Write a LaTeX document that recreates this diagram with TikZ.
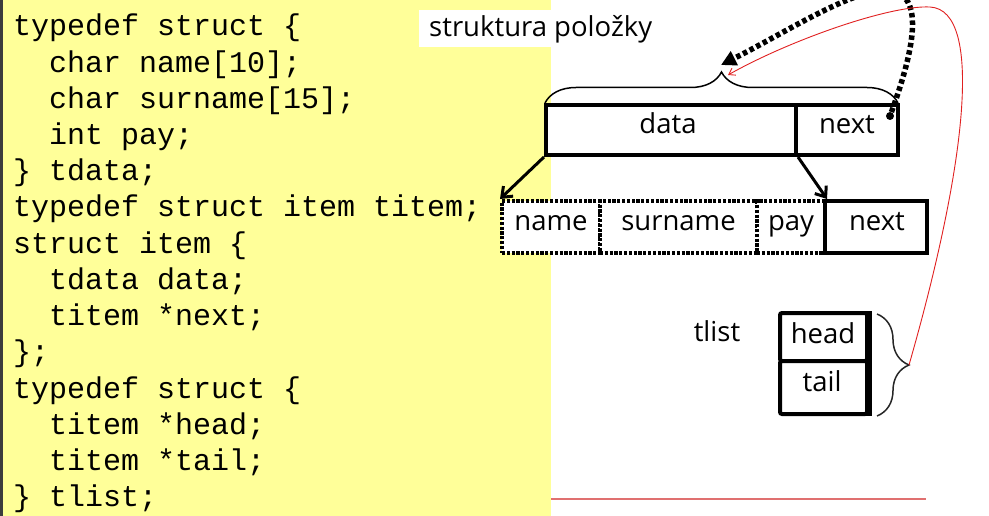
\documentclass[tikz,border=0pt]{standalone}
\usepackage{fontspec}
\setmainfont{Open Sans}
\newfontfamily\codefont{Liberation Mono}
\usetikzlibrary{decorations.pathreplacing,arrows.meta}
\definecolor{codebg}{HTML}{FFFF99}
\definecolor{edgegray}{HTML}{3C3C3C}
\definecolor{redline}{HTML}{E02020}
\definecolor{pinkline}{HTML}{E07070}
\begin{document}
\begin{tikzpicture}[x=1pt,y=-1pt,
  code/.style={anchor=base west,inner sep=0pt,font=\codefont\fontsize{30}{36}\selectfont},
  lbl/.style={anchor=base,inner sep=0pt,font=\fontsize{27.5}{32}\selectfont},
  solidbox/.style={draw,fill=white,line width=4pt,inner sep=0pt},
  dotbox/.style={draw,fill=white,line width=4pt,dash pattern=on 3.2pt off 1.6pt,inner sep=0pt},
  ptrarrow/.style={line width=3pt,-{Straight Barb[length=9pt,width=14pt]}},
  bigbrace/.style={decorate,decoration={brace,amplitude=31pt},line width=1.5pt}
]
\useasboundingbox (0,0) rectangle (989,516);
\clip (0,0) rectangle (989,516);
% code panel
\fill[codebg] (0,0) rectangle (551,516);
\fill[edgegray] (0,0) rectangle (3,516);
\draw[pinkline,line width=1.5pt] (551,499) -- (926,499);
\fill[white] (419,10) rectangle (655,47);
\node[lbl,anchor=base west] (title) at (429,37) {struktura položky};
% code lines
\node[code] (l1)  at (13,36.0)  {typedef struct \{};
\node[code] (l2)  at (13,72.2)  {\hspace*{36pt}char name[10];};
\node[code] (l3)  at (13,108.4) {\hspace*{36pt}char surname[15];};
\node[code] (l4)  at (13,144.6) {\hspace*{36pt}int pay;};
\node[code] (l5)  at (13,180.8) {\} tdata;};
\node[code] (l6)  at (13,217.0) {typedef struct item titem;};
\node[code] (l7)  at (13,253.2) {struct item \{};
\node[code] (l8)  at (13,289.4) {\hspace*{36pt}tdata data;};
\node[code] (l9)  at (13,325.6) {\hspace*{36pt}titem *next;};
\node[code] (l10) at (13,361.8) {\};};
\node[code] (l11) at (13,398.0) {typedef struct \{};
\node[code] (l12) at (13,434.2) {\hspace*{36pt}titem *head;};
\node[code] (l13) at (13,470.4) {\hspace*{36pt}titem *tail;};
\node[code] (l14) at (13,506.6) {\} tlist;};
% item structure
\node[solidbox,minimum width=250pt,minimum height=50pt] (data) at (671,130) {};
\node[solidbox,minimum width=102pt,minimum height=50pt] (next) at (847,130) {};
\node[lbl] (tdata) at (668,134) {data};
\node[lbl] (tnext) at (847,134) {next};
\draw[bigbrace] (545,103) -- (898,103);
\coordinate (ptr) at (721,65);
\coordinate (rtip) at (728,75);
% row 2
\node[dotbox,minimum width=98pt,minimum height=52pt] (name) at (551,227) {};
\node[dotbox,minimum width=157pt,minimum height=52pt] (surname) at (678.5,227) {};
\node[dotbox,minimum width=68pt,minimum height=52pt] (pay) at (791,227) {};
\node[solidbox,minimum width=102pt,minimum height=52pt] (next2) at (876,227) {};
\node[lbl] (tname) at (551,230) {name};
\node[lbl] (tsurname) at (678.5,230) {surname};
\node[lbl] (tpay) at (791,230) {pay};
\node[lbl] (tnext2) at (877,230) {next};
\draw[ptrarrow] (data.south west) -- (name.north west);
\draw[ptrarrow] (data.south east) -- (pay.north east);
% tlist
\node[lbl] (tlist) at (717,341) {tlist};
\node[solidbox,rounded corners=2pt,minimum width=87pt,minimum height=48pt] (head) at (823.5,337) {};
\node[solidbox,rounded corners=2pt,minimum width=87pt,minimum height=53pt] (tail) at (823.5,387.5) {};
\draw[line width=6pt] (head.north east) -- (tail.south east);
\node[lbl] (thead) at (823,343) {head};
\node[lbl] (ttail) at (822,391) {tail};
\draw[decorate,decoration={brace,amplitude=32pt},line width=1.5pt,black!85] (877,314) -- (877,416);
\coordinate (rbtip) at (909,365);
% pointer from next
\node[circle,fill,inner sep=0pt,minimum size=8pt] (dot) at (890,116) {};
\draw[line width=5.5pt,dash pattern=on 4.5pt off 3pt,-{Triangle[length=15pt,width=15pt]}]
  (dot) .. controls (965,-90) and (830,10) .. (ptr);
\draw[redline,line width=0.9pt,-{Straight Barb[length=6pt,width=8pt]}]
  (rbtip) .. controls (965,170) and (985,10) .. (930,7) .. controls (890,5) and (790,40) .. (rtip);
\end{tikzpicture}
\end{document}
